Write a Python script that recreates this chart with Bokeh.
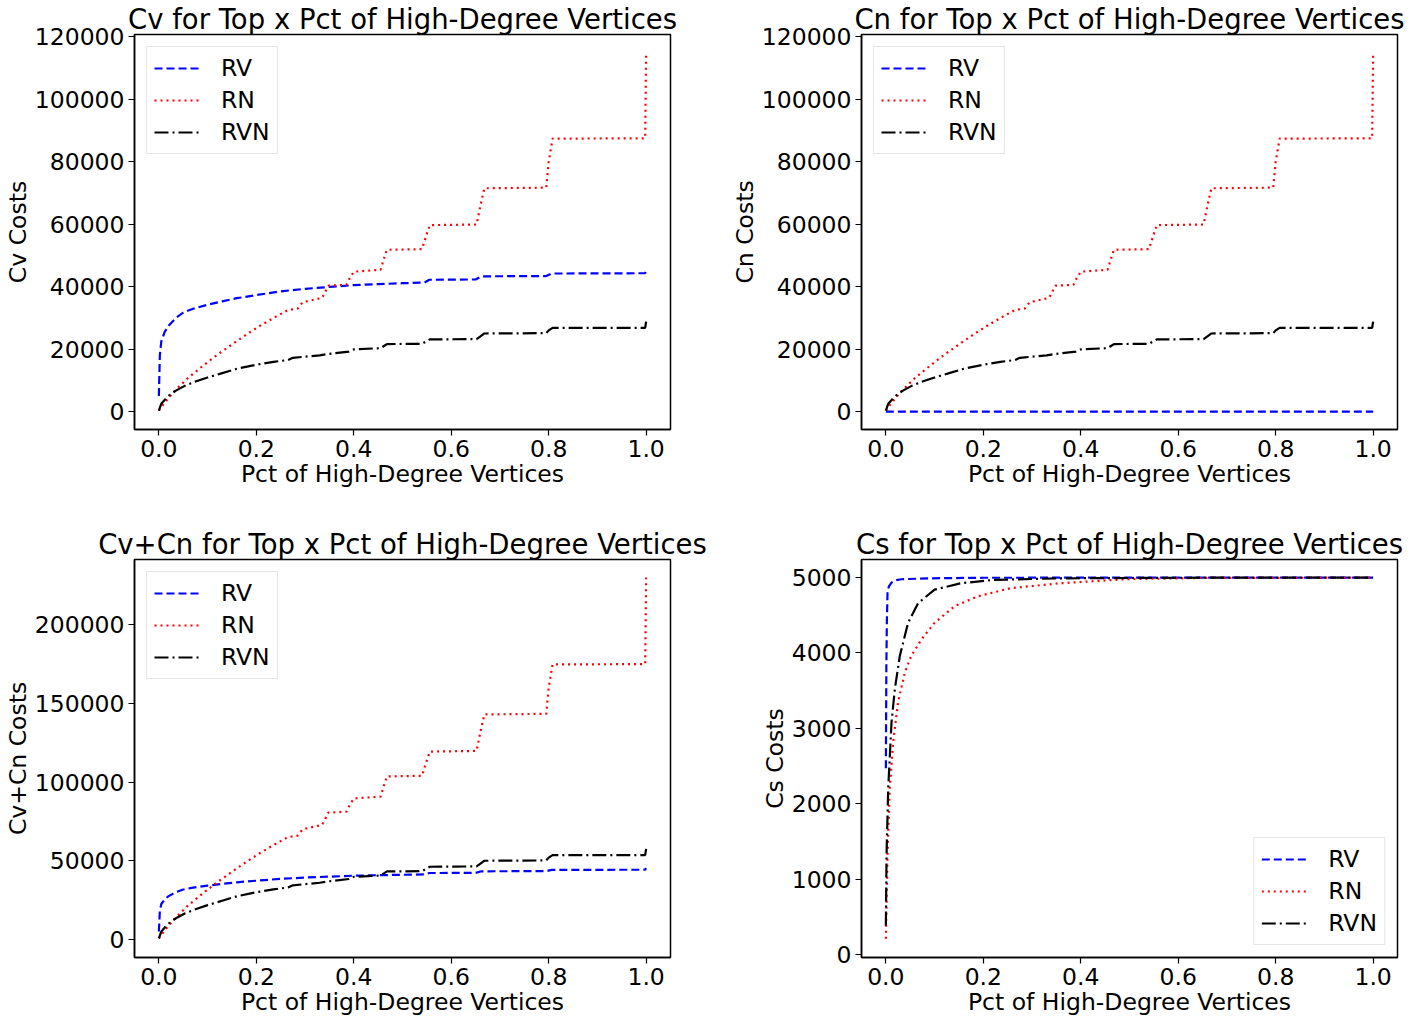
from bokeh.plotting import figure
from bokeh.models import (Range1d, FixedTicker, PrintfTickFormatter, NumeralTickFormatter,
                          Legend, LegendItem)
from bokeh.layouts import column, row
from bokeh.embed import file_html
from bokeh.resources import INLINE

FONT = "DejaVu Sans"

# ---------------- data ----------------
X_TICKS = [0.0, 0.2, 0.4, 0.6, 0.8, 1.0]
CV_TICKS = [0, 20000, 40000, 60000, 80000, 100000, 120000]
SUM_TICKS = [0, 50000, 100000, 150000, 200000]
CS_TICKS = [0, 1000, 2000, 3000, 4000, 5000]

SERIES_NAMES = ["RV", "RN", "RVN"]

# Cv
RV_CV_X = [0.0, 0.002, 0.005, 0.012, 0.02, 0.035, 0.05, 0.07, 0.1, 0.13, 0.16, 0.2, 0.25, 0.3,
           0.35, 0.4, 0.45, 0.5, 0.545, 0.555, 0.65, 0.662, 0.795, 0.806, 0.998, 1.0]
RV_CV_Y = [5000, 18000, 22500, 25500, 27500, 30000, 31700, 32900, 34200, 35300, 36300, 37300,
           38500, 39300, 39900, 40500, 40800, 41100, 41300, 42200, 42300, 43300, 43400, 44200,
           44300, 45300]
RN_CV_X = [0.0, 0.01, 0.03, 0.06, 0.09, 0.12, 0.15, 0.18, 0.21, 0.24, 0.265, 0.285, 0.295,
           0.335, 0.342, 0.348, 0.385, 0.392, 0.40, 0.455, 0.461, 0.468, 0.54, 0.548, 0.556,
           0.652, 0.66, 0.668, 0.795, 0.80, 0.808, 0.998, 1.0]
RN_CV_Y = [300, 2500, 6200, 10800, 14600, 18200, 21500, 24700, 27700, 30400, 32500, 33000,
           35000, 36400, 38500, 40300, 40600, 42800, 44800, 45400, 48500, 51800, 52000, 56000,
           59700, 59900, 66000, 71500, 71700, 80000, 87400, 87500, 115000]
RVN_CV_X = [0.0, 0.005, 0.018, 0.035, 0.054, 0.075, 0.1, 0.13, 0.16, 0.2, 0.235, 0.265, 0.275,
            0.33, 0.345, 0.39, 0.40, 0.455, 0.462, 0.468, 0.54, 0.548, 0.556, 0.652, 0.66,
            0.668, 0.795, 0.80, 0.808, 0.998, 1.0]
RVN_CV_Y = [300, 2500, 4800, 6700, 8300, 9600, 10900, 12300, 13700, 15000, 15900, 16500, 17200,
            18000, 18400, 19200, 19900, 20300, 21000, 21600, 21700, 22400, 23100, 23200, 24100,
            25000, 25100, 26000, 26800, 26800, 28800]

# Cn (RN and RVN read as identical to the Cv panel; RV flat at zero)
RV_CN_X = [0.0, 1.0]
RV_CN_Y = [0, 0]
RN_CN_X = list(RN_CV_X)
RN_CN_Y = list(RN_CV_Y)
RVN_CN_X = list(RVN_CV_X)
RVN_CN_Y = list(RVN_CV_Y)

# Cv+Cn
RV_SUM_X = list(RV_CV_X)
RV_SUM_Y = list(RV_CV_Y)
RN_SUM_X = list(RN_CV_X)
RN_SUM_Y = [600, 5000, 12400, 21600, 29200, 36400, 43000, 49400, 55400, 60800, 65000, 66000,
            70000, 72800, 77000, 80600, 81200, 85600, 89600, 90800, 97000, 103600, 104000,
            112000, 119400, 119800, 132000, 143000, 143400, 160000, 174800, 175000, 230000]
RVN_SUM_X = list(RVN_CV_X)
RVN_SUM_Y = [600, 5000, 9600, 13400, 16600, 19200, 21800, 24600, 27400, 30000, 31800, 33000,
             34400, 36000, 36800, 38400, 39800, 40600, 42000, 43200, 43400, 44800, 46200, 46400,
             48200, 50000, 50200, 52000, 53600, 53600, 57600]

# Cs
RV_CS_X = [0.0, 0.001, 0.002, 0.0034, 0.006, 0.0116, 0.02, 0.032, 0.086, 0.2, 1.0]
RV_CS_Y = [2470, 3800, 4400, 4800, 4880, 4934, 4965, 4978, 4990, 4998, 5000]
RN_CS_X = [0.0, 0.0034, 0.008, 0.015, 0.025, 0.039, 0.052, 0.073, 0.1, 0.141, 0.188, 0.256,
           0.358, 0.495, 0.65, 1.0]
RN_CS_Y = [210, 1330, 2200, 2820, 3350, 3740, 3960, 4180, 4400, 4620, 4750, 4860, 4925, 4980,
           4995, 5000]
RVN_CS_X = [0.0, 0.0014, 0.0048, 0.0116, 0.0184, 0.0286, 0.0456, 0.066, 0.1, 0.154, 0.222,
            0.358, 0.6, 1.0]
RVN_CS_Y = [386, 1330, 2200, 3080, 3520, 3960, 4400, 4660, 4840, 4925, 4970, 4990, 4998, 5000]

# ---------------- styling ----------------
COLORS = ["#0000ff", "#ff0000", "#000000"]
DASHES = ["8 4", "2 4", "14 4 2 4"]
TICK_FS = "23.5px"
TITLE_FS = "27.5px"
FRAME_W = 536


def make_panel(title, ylabel, series, y_range, y_ticks, legend_loc, left_col, top_row):
    mb_left, mb_right = (133, 51) if left_col else (140, 16)
    mb_top = 30
    mb_bottom = 96 if top_row else 64
    frame_h = 395 if top_row else 398
    p = figure(frame_width=FRAME_W, frame_height=frame_h,
               x_range=Range1d(-0.05, 1.05), y_range=Range1d(*y_range),
               output_backend="svg", toolbar_location=None,
               min_border_left=mb_left, min_border_right=mb_right,
               min_border_top=mb_top, min_border_bottom=mb_bottom)
    p.title.text = title
    p.title.text_font = FONT
    p.title.text_font_size = TITLE_FS
    p.title.text_font_style = "normal"
    p.title.text_color = "black"
    p.title.align = "center"
    p.title.standoff = 0
    p.background_fill_color = "white"
    p.border_fill_color = "white"
    p.grid.visible = False
    p.outline_line_color = "black"
    p.outline_line_width = 1.5
    for ax in (p.xaxis[0], p.yaxis[0]):
        ax.axis_line_color = "black"
        ax.axis_line_width = 1.5
        ax.major_tick_line_color = "black"
        ax.major_tick_line_width = 1.2
        ax.major_tick_out = 6
        ax.major_tick_in = 0
        ax.minor_tick_line_color = None
        ax.major_label_text_font = FONT
        ax.major_label_text_font_size = TICK_FS
        ax.major_label_text_color = "black"
        ax.major_label_standoff = 4
        ax.axis_label_text_font = FONT
        ax.axis_label_text_font_size = TICK_FS
        ax.axis_label_text_font_style = "normal"
        ax.axis_label_text_color = "black"
        ax.axis_label_standoff = 0
    p.xaxis.ticker = FixedTicker(ticks=X_TICKS)
    p.xaxis.formatter = PrintfTickFormatter(format="%.1f")
    p.yaxis.ticker = FixedTicker(ticks=y_ticks)
    p.yaxis.formatter = NumeralTickFormatter(format="0")
    p.xaxis.axis_label = "Pct of High-Degree Vertices"
    p.yaxis.axis_label = ylabel

    items = []
    for name, (xs, ys), color, dash in zip(SERIES_NAMES, series, COLORS, DASHES):
        r = p.line(xs, ys, line_color=color, line_width=2.2, line_dash=dash)
        items.append(LegendItem(label=name, renderers=[r]))
    legend = Legend(items=items, location=legend_loc,
                    label_text_font=FONT, label_text_font_size=TICK_FS,
                    label_text_color="black",
                    glyph_width=45, glyph_height=26, label_height=26,
                    label_standoff=22, spacing=4, padding=7, margin=12,
                    border_line_color="#cccccc", border_line_width=1.2,
                    background_fill_color="white", background_fill_alpha=0.8)
    p.add_layout(legend)
    return p


p1 = make_panel("Cv for Top x Pct of High-Degree Vertices", "Cv Costs",
                [(RV_CV_X, RV_CV_Y), (RN_CV_X, RN_CV_Y), (RVN_CV_X, RVN_CV_Y)],
                (-5750, 120750), CV_TICKS, "top_left", True, True)
p2 = make_panel("Cn for Top x Pct of High-Degree Vertices", "Cn Costs",
                [(RV_CN_X, RV_CN_Y), (RN_CN_X, RN_CN_Y), (RVN_CN_X, RVN_CN_Y)],
                (-5750, 120750), CV_TICKS, "top_left", False, True)
p3 = make_panel("Cv+Cn for Top x Pct of High-Degree Vertices", "Cv+Cn Costs",
                [(RV_SUM_X, RV_SUM_Y), (RN_SUM_X, RN_SUM_Y), (RVN_SUM_X, RVN_SUM_Y)],
                (-11500, 241500), SUM_TICKS, "top_left", True, False)
p4 = make_panel("Cs for Top x Pct of High-Degree Vertices", "Cs Costs",
                [(RV_CS_X, RV_CS_Y), (RN_CS_X, RN_CS_Y), (RVN_CS_X, RVN_CS_Y)],
                (-40, 5240), CS_TICKS, "bottom_right", False, False)

layout = column(row(p1, p2), row(p3, p4))

open("out.html", "w").write(file_html(layout, INLINE, title="Costs"))
